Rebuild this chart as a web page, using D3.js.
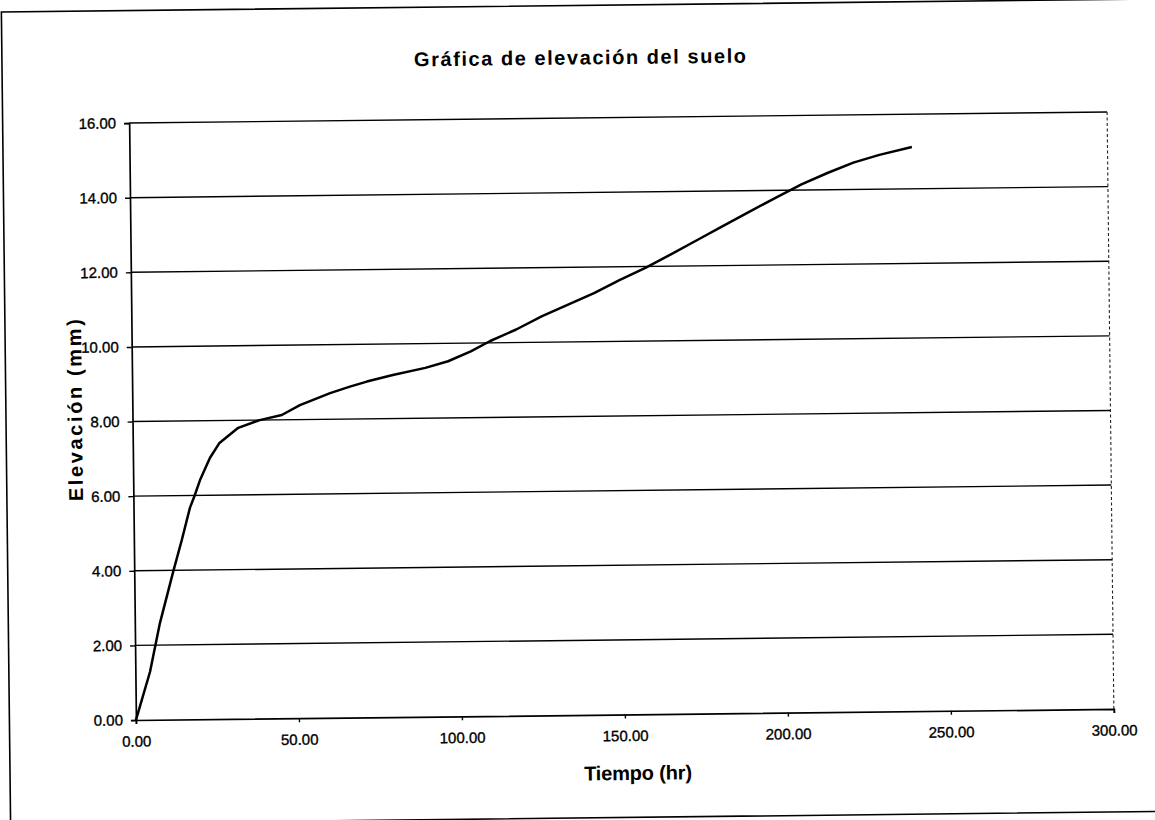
<!DOCTYPE html>
<html>
<head>
<meta charset="utf-8">
<script src="https://cdn.jsdelivr.net/npm/d3@7"></script>
<style>
  html, body { margin: 0; padding: 0; background: #fff; }
  svg { display: block; }
  text { font-family: "Liberation Sans", Arial, sans-serif; fill: #000; }
</style>
</head>
<body>
<svg id="chart" width="1155" height="820"></svg>
<script>
// Soil heave measurements: elapsed time (hr) vs. elevation (mm)
const tiempo = [0, 4.5, 7.7, 12, 14.7, 17.3, 18.8, 20.5, 23.6, 26.5, 32.4, 39, 45.8, 51.4, 60.7, 66.8,
                72, 80, 90, 97, 104, 110, 118, 126, 134, 142, 150, 158, 166, 174, 182, 190, 198,
                206, 214, 222, 230, 240];
const elevacion = [0, 1.29, 2.59, 3.98, 4.81, 5.67, 6.0, 6.41, 7.0, 7.39, 7.8, 8.0, 8.13, 8.39, 8.7, 8.87,
                   9.0, 9.17, 9.35, 9.52, 9.78, 10.05, 10.35, 10.7, 11.0, 11.3, 11.65, 11.97, 12.33, 12.7,
                   13.07, 13.44, 13.8, 14.15, 14.45, 14.72, 14.92, 15.12];

const xTicks = [0, 50, 100, 150, 200, 250, 300];
const yTicks = [0, 2, 4, 6, 8, 10, 12, 14, 16];

const titulo = "Gráfica de elevación del suelo";
const tituloX = "Tiempo (hr)";
const tituloY = "Elevación (mm)";

const plot = { left: 132.5, right: 1110.5, top: 117.5, bottom: 714.5 };

const svg = d3.select("#chart");
// the whole sheet sits at a slight tilt
const page = svg.append("g").attr("transform", "rotate(-0.65, 621.5, 416)");

// outer chart frame
page.append("rect")
  .attr("x", 6).attr("y", 5)
  .attr("width", 1175).attr("height", 812.5)
  .attr("fill", "none").attr("stroke", "#000").attr("stroke-width", 1.6);

const x = d3.scaleLinear().domain([0, 300]).range([plot.left, plot.right]);
const y = d3.scaleLinear().domain([0, 16]).range([plot.bottom, plot.top]);
const fmt = d3.format(".2f");

// horizontal gridlines
page.append("g").selectAll("line")
  .data(yTicks.filter(d => d > 0))
  .join("line")
  .attr("x1", x(0)).attr("x2", x(300))
  .attr("y1", d => y(d)).attr("y2", d => y(d))
  .attr("stroke", "#000").attr("stroke-width", 1.4);

// right border of the plot area (dotted)
page.append("line")
  .attr("x1", x(300)).attr("x2", x(300))
  .attr("y1", y(16)).attr("y2", y(0))
  .attr("stroke", "#222").attr("stroke-width", 1.1)
  .attr("stroke-dasharray", "3,2.5");

function styleTicks(g) {
  g.select(".domain").attr("stroke", "#000").attr("stroke-width", 1.7);
  g.selectAll(".tick line").attr("stroke", "#000").attr("stroke-width", 1.4);
  g.selectAll(".tick text")
    .attr("font-size", 15).attr("font-family", "Liberation Sans, Arial, sans-serif")
    .attr("fill", "#000").attr("stroke", "#000").attr("stroke-width", 0.35);
}

// y axis
const yAxis = page.append("g")
  .attr("transform", `translate(${x(0)},0)`)
  .call(d3.axisLeft(y).tickValues(yTicks).tickFormat(fmt).tickSize(5).tickPadding(8));
styleTicks(yAxis);

// x axis
const xAxis = page.append("g")
  .attr("transform", `translate(0,${y(0)})`)
  .call(d3.axisBottom(x).tickValues(xTicks).tickFormat(fmt).tickSize(4).tickPadding(12));
styleTicks(xAxis);

// elevation curve
const serie = tiempo.map((t, i) => [t, elevacion[i]]);
page.append("path")
  .datum(serie)
  .attr("fill", "none")
  .attr("stroke", "#000")
  .attr("stroke-width", 2.5)
  .attr("stroke-linejoin", "round")
  .attr("d", d3.line().x(d => x(d[0])).y(d => y(d[1])).curve(d3.curveLinear));

// titles
page.append("text")
  .attr("x", 584).attr("y", 64)
  .attr("text-anchor", "middle")
  .attr("font-size", 20).attr("font-weight", "bold")
  .attr("textLength", 332).attr("lengthAdjust", "spacing")
  .text(titulo);

page.append("text")
  .attr("x", 634).attr("y", 780)
  .attr("text-anchor", "middle")
  .attr("font-size", 20).attr("font-weight", "bold")
  .attr("textLength", 108).attr("lengthAdjust", "spacing")
  .text(tituloX);

page.append("text")
  .attr("transform", "translate(82,404) rotate(-90)")
  .attr("text-anchor", "middle")
  .attr("font-size", 20).attr("font-weight", "bold")
  .attr("textLength", 182).attr("lengthAdjust", "spacing")
  .text(tituloY);
</script>
</body>
</html>
